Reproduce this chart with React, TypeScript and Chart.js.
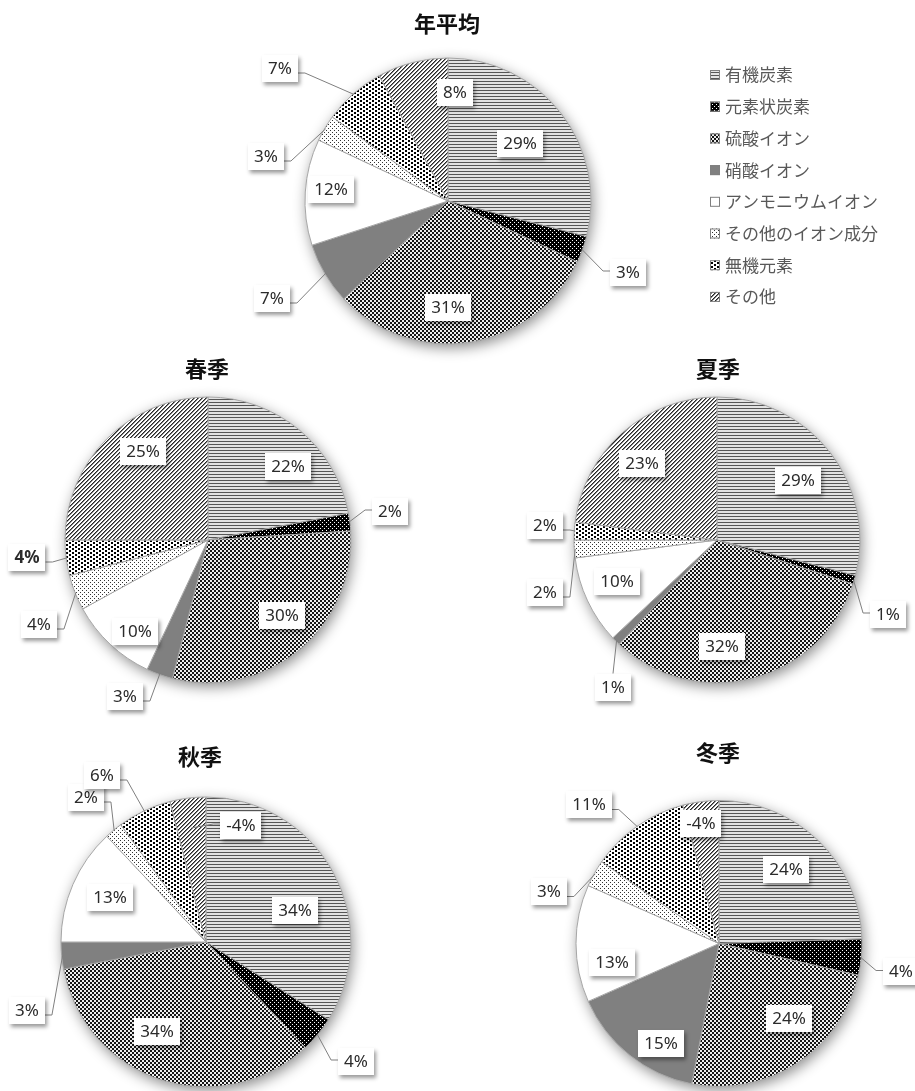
import React, { useEffect, useRef } from 'react';
import { Chart, registerables } from 'chart.js';

Chart.register(...registerables);

// ---------------- data ----------------
const CATEGORIES = ['有機炭素', '元素状炭素', '硫酸イオン', '硝酸イオン', 'アンモニウムイオン', 'その他のイオン成分', '無機元素', 'その他'];
const TITLES = ['年平均', '春季', '夏季', '秋季', '冬季'];
const ANNUAL = [29, 3, 31, 7, 12, 3, 7, 8];
const SPRING = [22, 2, 30, 3, 10, 4, 4, 25];
const SUMMER = [29, 1, 32, 1, 10, 2, 2, 23];
const AUTUMN = [34, 4, 34, 3, 13, 2, 6, -4];
const WINTER = [24, 4, 24, 15, 13, 3, 11, -4];
const SERIES = [ANNUAL, SPRING, SUMMER, AUTUMN, WINTER];

// ---------------- layout ----------------
const W = 915;
const H = 1091;
type Layout = {
  cx: number; cy: number; r: number; title: [number, number];
  offsets: [number, number][]; leader: number[]; bold: number[]; legend: boolean;
};
const LAYOUTS: Layout[] = [
  { cx: 448, cy: 201, r: 143, title: [447, 24],
    offsets: [[72, -58], [180, 71], [0, 106], [-176, 97], [-117, -12], [-182, -45], [-168, -133], [7, -109]],
    leader: [0, 1, 0, 1, 0, 1, 1, 0], bold: [], legend: true },
  { cx: 208, cy: 540, r: 143, title: [207, 369],
    offsets: [[80, -74], [182, -29], [74, 75], [-83, 156], [-73, 91], [-169, 84], [-181, 17], [-65, -89]],
    leader: [0, 1, 0, 1, 0, 1, 1, 0], bold: [6], legend: false },
  { cx: 717, cy: 540, r: 143, title: [718, 369],
    offsets: [[81, -60], [171, 74], [5, 106], [-104, 147], [-100, 41], [-172, 52], [-172, -15], [-75, -77]],
    leader: [0, 1, 0, 1, 0, 1, 1, 0], bold: [], legend: false },
  { cx: 206, cy: 943, r: 145, title: [200, 757],
    offsets: [[89, -32], [150, 119], [-49, 89], [-179, 68], [-96, -45], [-120, -145], [-104, -167], [35, -117]],
    leader: [0, 1, 0, 1, 0, 1, 1, 0.8], bold: [], legend: false },
  { cx: 719, cy: 946, r: 143, title: [718, 753],
    offsets: [[67, -74], [182, 28], [70, 75], [-58, 100], [-107, 19], [-170, -52], [-130, -139], [-18, -120]],
    leader: [0, 1, 0, 0, 0, 1, 1, 0], bold: [], legend: false },
];
const LEGEND_X = 710;
const LEGEND_Y0 = 75;
const LEGEND_STEP = 31.7;

// ---------------- patterns ----------------
function tile(w: number, h: number, bg: string, rects: [number, number, number, number, string][]) {
  const c = document.createElement('canvas');
  c.width = w; c.height = h;
  const x = c.getContext('2d')!;
  x.fillStyle = bg; x.fillRect(0, 0, w, h);
  rects.forEach(([a, b, rw, rh, col]) => { x.fillStyle = col; x.fillRect(a, b, rw, rh); });
  return c;
}
function makePatterns(ctx: CanvasRenderingContext2D): (CanvasPattern | string)[] {
  const diag: [number, number, number, number, string][] = [];
  for (let y = 0; y < 4; y++) {
    diag.push([(3 - y + 4) % 4, y, 1, 1, '#262626']);
    diag.push([(4 - y) % 4, y, 1, 1, '#808080']);
  }
  const tiles = [
    tile(4, 3, '#e2e2e2', [[0, 0, 4, 1, '#555555']]),
    tile(4, 4, '#000000', [[0, 0, 1, 1, '#ffffff'], [2, 2, 1, 1, '#ffffff']]),
    tile(4, 4, '#eeeeee', [[0, 0, 2, 2, '#161616'], [2, 2, 2, 2, '#161616']]),
    null,
    null,
    tile(4, 4, '#ffffff', [[0, 0, 1, 1, '#333333'], [2, 2, 1, 1, '#333333']]),
    tile(6, 4, '#ffffff', [[0, 0, 2, 2, '#000000'], [3, 2, 2, 2, '#000000']]),
    tile(4, 4, '#ffffff', diag),
  ];
  return tiles.map((t, i) => {
    if (i === 3) return '#808080';
    if (i === 4) return '#ffffff';
    return ctx.createPattern(t as HTMLCanvasElement, 'repeat') as CanvasPattern;
  });
}

const LABEL_FONT = '"Noto Sans", "Noto Sans CJK JP", sans-serif';
const CJK_FONT = '"Noto Sans CJK JP", "Noto Sans", sans-serif';

function makeDecor(idx: number, fills: (CanvasPattern | string)[]) {
  const L = LAYOUTS[idx];
  const values = SERIES[idx];
  return {
    id: 'decor' + idx,
    beforeDatasetsDraw(chart: any) {
      const ctx: CanvasRenderingContext2D = chart.ctx;
      const el = chart.getDatasetMeta(0).data[0];
      const p = el.getProps(['x', 'y', 'outerRadius'], true);
      ctx.save();
      ctx.shadowColor = 'rgba(0,0,0,0.45)';
      ctx.shadowBlur = 14;
      ctx.shadowOffsetX = 2;
      ctx.shadowOffsetY = 4;
      ctx.beginPath();
      ctx.arc(p.x, p.y, p.outerRadius, 0, Math.PI * 2);
      ctx.fillStyle = '#ffffff';
      ctx.fill();
      ctx.restore();
    },
    afterDatasetsDraw(chart: any) {
      const ctx: CanvasRenderingContext2D = chart.ctx;
      const arcs = chart.getDatasetMeta(0).data;
      arcs.forEach((el: any, i: number) => {
        const p = el.getProps(['x', 'y', 'startAngle', 'endAngle', 'outerRadius'], true);
        const text = `${values[i]}%`;
        const bold = L.bold.includes(i);
        const font = `${bold ? 'bold ' : ''}17px ${LABEL_FONT}`;
        ctx.font = font;
        const w = ctx.measureText(text).width + 12;
        const h = 27;
        const lx = p.x + L.offsets[i][0];
        const ly = p.y + L.offsets[i][1];
        if (L.leader[i] > 0) {
          const mid = (p.startAngle + p.endAngle) / 2;
          const tr = p.outerRadius * L.leader[i] - 1;
          const ax = p.x + Math.cos(mid) * tr;
          const ay = p.y + Math.sin(mid) * tr;
          ctx.save();
          ctx.strokeStyle = '#7f7f7f';
          ctx.lineWidth = 1;
          ctx.beginPath();
          if (lx + w / 2 < ax) {
            ctx.moveTo(lx + w / 2, ly + 5);
            ctx.lineTo(lx + w / 2 + 7, ly + 5);
          } else if (lx - w / 2 > ax) {
            ctx.moveTo(lx - w / 2, ly - 1);
            ctx.lineTo(lx - w / 2 - 7, ly - 1);
          } else if (ly > ay) {
            ctx.moveTo(lx, ly - h / 2);
          } else {
            ctx.moveTo(lx, ly + h / 2);
          }
          ctx.lineTo(ax, ay);
          ctx.stroke();
          ctx.restore();
        }
        ctx.save();
        ctx.shadowColor = 'rgba(0,0,0,0.4)';
        ctx.shadowBlur = 4;
        ctx.shadowOffsetX = 2;
        ctx.shadowOffsetY = 3;
        ctx.fillStyle = '#ffffff';
        ctx.fillRect(Math.round(lx - w / 2), Math.round(ly - h / 2), Math.round(w), h);
        ctx.restore();
        ctx.save();
        ctx.font = font;
        ctx.fillStyle = '#2b2b2b';
        ctx.textAlign = 'center';
        ctx.textBaseline = 'middle';
        ctx.fillText(text, lx, ly + 1);
        ctx.restore();
      });
    },
    afterDraw(chart: any) {
      const ctx: CanvasRenderingContext2D = chart.ctx;
      ctx.save();
      ctx.font = `bold 22px ${CJK_FONT}`;
      ctx.fillStyle = '#111111';
      ctx.textAlign = 'center';
      ctx.textBaseline = 'middle';
      ctx.fillText(TITLES[idx], L.title[0], L.title[1]);
      if (L.legend) {
        CATEGORIES.forEach((name, i) => {
          const y = LEGEND_Y0 + i * LEGEND_STEP;
          ctx.fillStyle = fills[i] as any;
          ctx.fillRect(LEGEND_X, y - 5, 10, 10);
          ctx.strokeStyle = '#7f7f7f';
          ctx.lineWidth = 1;
          ctx.strokeRect(LEGEND_X + 0.5, y - 4.5, 9, 9);
          ctx.font = `17px ${CJK_FONT}`;
          ctx.fillStyle = '#595959';
          ctx.textAlign = 'left';
          ctx.textBaseline = 'middle';
          ctx.fillText(name, LEGEND_X + 15, y);
        });
      }
      ctx.restore();
    },
  };
}

function PieCanvas({ idx }: { idx: number }) {
  const ref = useRef<HTMLCanvasElement | null>(null);
  useEffect(() => {
    const canvas = ref.current!;
    const ctx = canvas.getContext('2d')!;
    const fills = makePatterns(ctx);
    const L = LAYOUTS[idx];
    const half = 150;
    const chart = new Chart(canvas, {
      type: 'pie',
      data: {
        labels: CATEGORIES,
        datasets: [{
          data: SERIES[idx],
          backgroundColor: fills as any,
          borderColor: '#a6a6a6',
          borderWidth: 1,
        }],
      },
      options: {
        animation: false,
        responsive: false,
        devicePixelRatio: 1,
        events: [],
        radius: L.r,
        layout: {
          padding: {
            left: L.cx - half,
            right: W - L.cx - half,
            top: L.cy - half,
            bottom: H - L.cy - half,
          },
        },
        plugins: {
          legend: { display: false },
          tooltip: { enabled: false },
          title: { display: false },
        },
      } as any,
      plugins: [makeDecor(idx, fills) as any],
    });
    return () => chart.destroy();
  }, [idx]);
  return (
    <canvas
      ref={ref}
      width={W}
      height={H}
      style={{ position: 'absolute', left: 0, top: 0, width: W, height: H }}
    />
  );
}

export default function App() {
  return (
    <div style={{ position: 'absolute', left: 0, top: 0, width: W, height: H, background: '#ffffff', overflow: 'hidden' }}>
      {SERIES.map((_, i) => (
        <PieCanvas key={i} idx={i} />
      ))}
    </div>
  );
}
